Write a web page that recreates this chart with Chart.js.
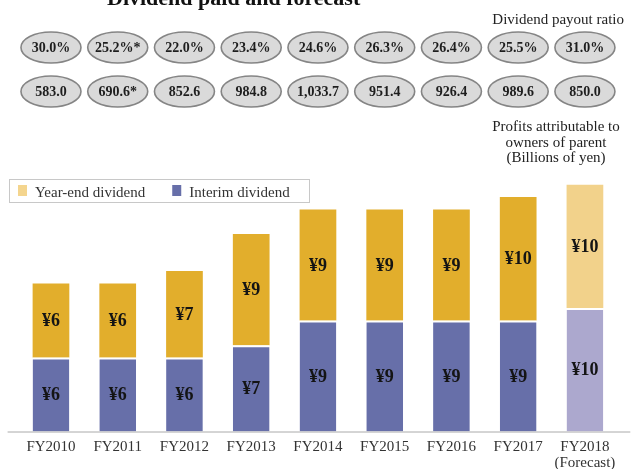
<!DOCTYPE html>
<html>
<head>
<meta charset="utf-8">
<title>Dividend paid and forecast</title>
<script src="https://cdn.jsdelivr.net/npm/chart.js@4.4.1/dist/chart.umd.min.js"></script>
<style>
  body { margin: 0; background: #fff; }
</style>
</head>
<body>
<canvas id="dividend-chart" width="632" height="469"></canvas>
<script>
// Data
var categories = ['FY2010', 'FY2011', 'FY2012', 'FY2013', 'FY2014', 'FY2015', 'FY2016', 'FY2017', ['FY2018', '(Forecast)']];
var interimDividend = [6, 6, 6, 7, 9, 9, 9, 9, 10];
var yearEndDividend = [6, 6, 7, 9, 9, 9, 9, 10, 10];
var payoutRatio = ['30.0%', '25.2%*', '22.0%', '23.4%', '24.6%', '26.3%', '26.4%', '25.5%', '31.0%'];
var profitsToParent = ['583.0', '690.6*', '852.6', '984.8', '1,033.7', '951.4', '926.4', '989.6', '850.0'];
var forecastIndex = 8;

var serif = '"Liberation Serif", "Times New Roman", serif';
Chart.defaults.font.family = serif;

// Colors
var yearEndColor = '#e2ae2c', yearEndForecast = '#f2d28b', yearEndLegend = '#f4d58e';
var interimColor = '#676fa9', interimForecast = '#aca8ce';

function pick(normal, forecast) {
    return function(ctx) { return ctx.dataIndex === forecastIndex ? forecast : normal; };
}

// Title, ellipses, notes, legend box, axis line and value labels
var decorations = {
    id: 'decorations',
    beforeDatasetsDraw: function(chart) {
        var ctx = chart.ctx, area = chart.chartArea, xs = chart.scales.x;
        ctx.save();

        // title (cut off at top in the original)
        ctx.fillStyle = '#111';
        ctx.font = 'bold 22px ' + serif;
        ctx.textAlign = 'left';
        ctx.textBaseline = 'alphabetic';
        ctx.fillText('Dividend paid and forecast', 107, 5);

        // notes
        ctx.fillStyle = '#222';
        ctx.font = '15px ' + serif;
        ctx.textAlign = 'right';
        ctx.fillText('Dividend payout ratio', 624, 24);
        ctx.textAlign = 'center';
        ctx.fillText('Profits attributable to', 556, 131);
        ctx.fillText('owners of parent', 556, 146.5);
        ctx.fillText('(Billions of yen)', 556, 162);

        // ellipses
        var rows = [[payoutRatio, 47.5], [profitsToParent, 91.5]];
        ctx.font = 'bold 14px ' + serif;
        ctx.textBaseline = 'middle';
        rows.forEach(function(row) {
            row[0].forEach(function(txt, i) {
                var cx = xs.getPixelForValue(i);
                ctx.beginPath();
                ctx.ellipse(cx, row[1], 30, 15.5, 0, 0, Math.PI * 2);
                ctx.fillStyle = '#dadada';
                ctx.fill();
                ctx.lineWidth = 1.6;
                ctx.strokeStyle = '#858585';
                ctx.stroke();
                ctx.fillStyle = '#1e1e1e';
                ctx.fillText(txt, cx, row[1] + 1);
            });
        });

        // legend
        ctx.fillStyle = '#fff';
        ctx.fillRect(9.5, 179.5, 300, 23);
        ctx.strokeStyle = '#c8c8c8';
        ctx.lineWidth = 1;
        ctx.strokeRect(9.5, 179.5, 300, 23);
        var items = [chart.data.datasets[1], chart.data.datasets[0]];
        var lx = 18;
        ctx.font = '15px ' + serif;
        ctx.textAlign = 'left';
        ctx.textBaseline = 'alphabetic';
        items.forEach(function(ds) {
            ctx.fillStyle = ds.legendColor;
            ctx.fillRect(lx, 185, 9, 11);
            ctx.fillStyle = '#333';
            ctx.fillText(ds.label, lx + 17, 196.5);
            lx += 17 + ctx.measureText(ds.label).width + 27;
        });

        // axis line
        ctx.strokeStyle = '#aaaaaa';
        ctx.lineWidth = 1;
        ctx.beginPath();
        ctx.moveTo(area.left - 10, area.bottom + 0.5);
        ctx.lineTo(area.right + 12, area.bottom + 0.5);
        ctx.stroke();
        ctx.restore();
    },
    afterDatasetsDraw: function(chart) {
        var ctx = chart.ctx;
        ctx.save();
        ctx.font = 'bold 18px ' + serif;
        ctx.fillStyle = '#141414';
        ctx.textAlign = 'center';
        ctx.textBaseline = 'middle';
        chart.data.datasets.forEach(function(ds, d) {
            chart.getDatasetMeta(d).data.forEach(function(bar, i) {
                ctx.fillText('\u00a5' + ds.data[i], bar.x, (bar.y + bar.base) / 2 + 1);
            });
        });
        ctx.restore();
    }
};

var ctx = document.getElementById('dividend-chart');

var chartData = {
    labels: categories,
    datasets: [{
        label: 'Interim dividend',
        data: interimDividend,
        backgroundColor: pick(interimColor, interimForecast),
        legendColor: interimColor,
        borderColor: '#ffffff',
        borderWidth: { top: 2, left: 0, right: 0, bottom: 0 },
        borderSkipped: false
    }, {
        label: 'Year-end dividend',
        data: yearEndDividend,
        backgroundColor: pick(yearEndColor, yearEndForecast),
        legendColor: yearEndLegend,
        borderWidth: 0
    }]
};

var chartOptions = {
    responsive: false,
    animation: false,
    layout: { padding: { left: 17.6, right: 13.7, top: 172.4, bottom: -2 } },
    datasets: { bar: { categoryPercentage: 1, barPercentage: 0.55 } },
    plugins: {
        legend: { display: false },
        tooltip: { enabled: false }
    },
    scales: {
        x: {
            stacked: true,
            grid: { display: false },
            border: { display: false },
            ticks: {
                color: '#333',
                font: { size: 15, lineHeight: 1.05 },
                padding: 0,
                maxRotation: 0,
                autoSkip: false
            }
        },
        y: {
            stacked: true,
            display: false,
            min: 0,
            max: 21
        }
    }
};

var dividendChart = new Chart(ctx, {
    type: 'bar',
    data: chartData,
    options: chartOptions,
    plugins: [decorations]
});
</script>
</body>
</html>
